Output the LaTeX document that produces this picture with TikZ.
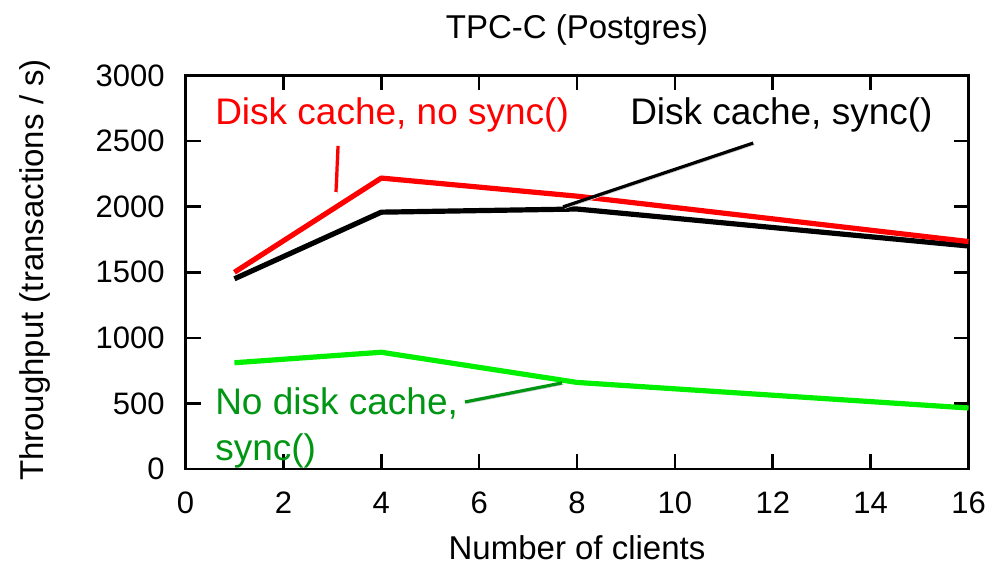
\documentclass[tikz,border=0pt]{standalone}
\usepackage{fontspec}
\setmainfont{Liberation Sans}
\usetikzlibrary{positioning}
\definecolor{syncred}{RGB}{255,0,0}
\definecolor{nocachegreen}{RGB}{0,240,0}
\definecolor{notegreen}{RGB}{0,150,20}
\tikzset{
frame/.style={line width=1.3pt}, % the axes box and its ticks
series/.style={line width=2.6pt, line join=round}, % the measured curves
ticklabel/.style={font=\fontsize{15.5}{18}\selectfont}, % numbers on the axes
axislabel/.style={font=\fontsize{16.5}{20}\selectfont}, % title and axis names
note/.style={inner sep=0pt, anchor=base west, font=\fontsize{18.5}{22}\selectfont}, % labels in the plot
pointer/.style={line width=1.6pt, preaction={draw=black!18, transform canvas={shift={(0.8pt,-0.8pt)}}}}, % label to curve
}

\begin{document}
\begin{tikzpicture}[x=24.47pt, y=0.06558pt]
\useasboundingbox (-92.75pt,-48.5pt) rectangle (404.25pt,234.5pt);

% axes
\draw[frame] (0,0) rectangle (16,3000);
\foreach \t in {2,4,...,14}
  \draw[frame] (\t,0) -- ++(0,7.5pt) (\t,3000) -- ++(0,-7.5pt);
\foreach \t in {500,1000,...,2500}
  \draw[frame] (0,\t) -- ++(7.5pt,0) (16,\t) -- ++(-7.5pt,0);
\foreach \t in {0,2,...,16}
  \node[ticklabel] (xt\t) at (\t,-259) {\t};
\foreach \t in {0,500,...,3000}
  \node[ticklabel, anchor=east, inner sep=0pt] (yt\t) at (-0.42,\t) {\t};

\node[axislabel] (title) at (8,3347) {TPC-C (Postgres)};
\node[axislabel] (xlabel) at (8,-602) {Number of clients};
\node[axislabel, rotate=90] (ylabel) at (-3.075,1517) {Throughput (transactions / s)};

% curves
\draw[series, nocachegreen] (1,810) -- (4,890) -- (8,660) -- (16,465);
\draw[series, black] (1,1450) -- (4,1958) -- (8,1982) -- (16,1700);
\draw[series, syncred] (1,1500) -- (4,2218) -- (8,2080) -- (16,1734);

% labels
\node[note, syncred] (nosync) at (0.6,2623) {Disk cache, no sync()};
\node[note, black] (sync) at (9.08,2623) {Disk cache, sync()};
\node[note, notegreen] (nocache) at (0.6,412) {No disk cache,};
\node[note, notegreen] (nocachesync) at (0.6,61) {sync()};

\coordinate (nosyncstart) at (3.116,2463);
\coordinate (nosyncend) at (3.075,2112);
\coordinate (syncstart) at (11.60,2485);
\coordinate (syncend) at (7.714,1998);
\coordinate (nocachestart) at (5.711,511);
\coordinate (nocacheend) at (7.693,656);
\draw[pointer, syncred] (nosyncstart) -- (nosyncend);
\draw[pointer, black] (syncstart) -- (syncend);
\draw[pointer, notegreen] (nocachestart) -- (nocacheend);

\end{tikzpicture}
\end{document}
